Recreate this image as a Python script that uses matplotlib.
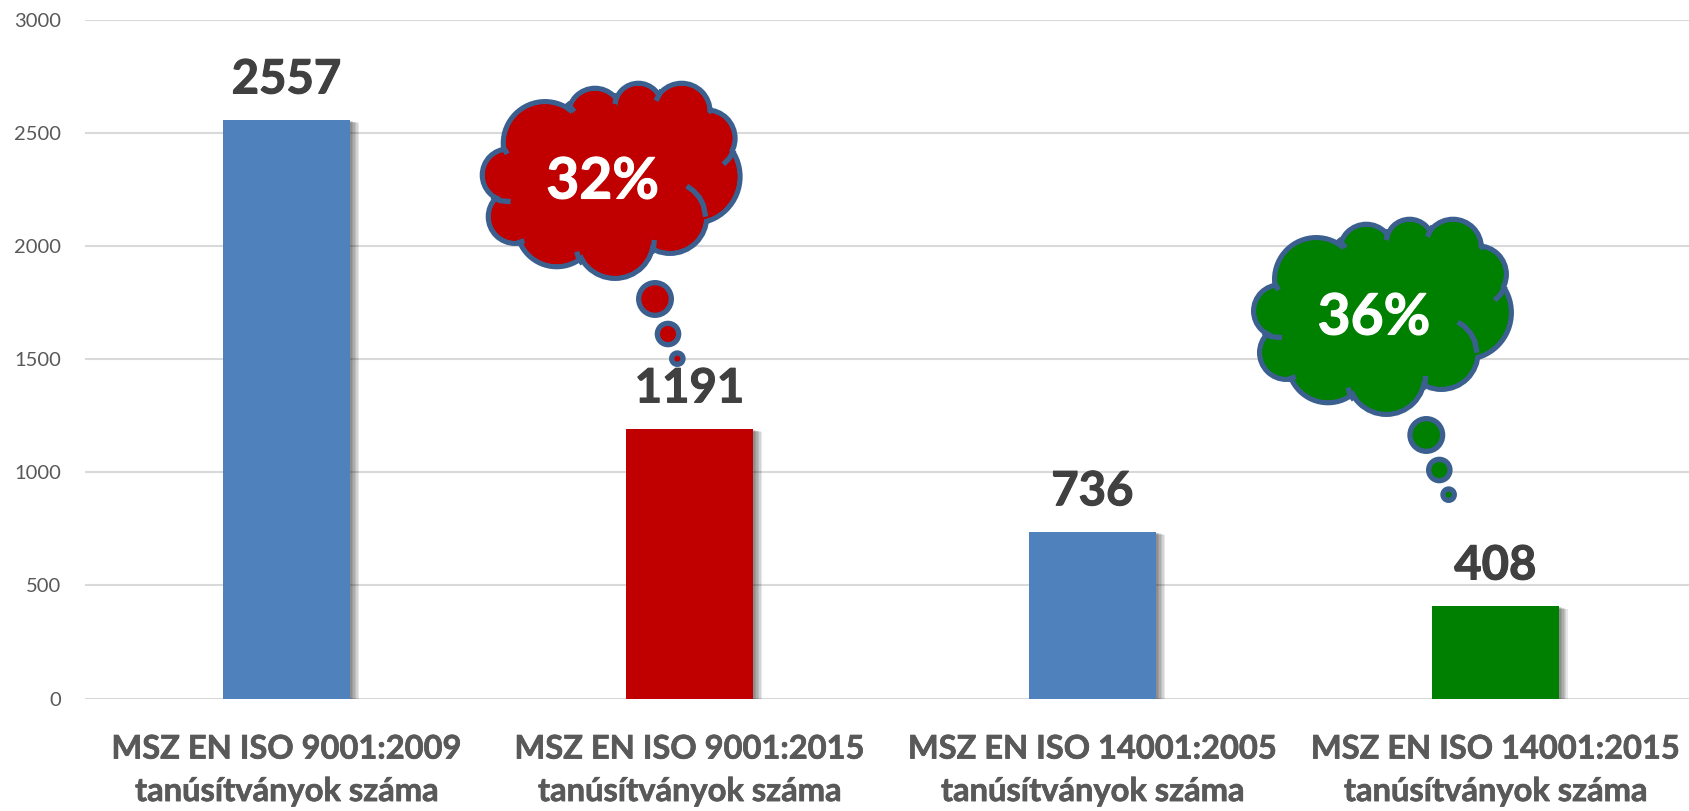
import matplotlib
matplotlib.use("Agg")
import matplotlib.pyplot as plt
import matplotlib.patheffects as pe
from matplotlib.patches import Circle, Polygon

plt.rcParams["font.family"] = ["Lato", "DejaVu Sans"]

categories = [
    "MSZ EN ISO 9001:2009\ntanúsítványok száma",
    "MSZ EN ISO 9001:2015\ntanúsítványok száma",
    "MSZ EN ISO 14001:2005\ntanúsítványok száma",
    "MSZ EN ISO 14001:2015\ntanúsítványok száma",
]
values = [2557, 1191, 736, 408]
bar_colors = ["#4F81BD", "#C00000", "#4F81BD", "#008000"]
y_ticks = [0, 500, 1000, 1500, 2000, 2500, 3000]

# felhők: szöveg, szín, bal felső sarok
cloud_labels = ["32%", "36%"]
cloud_colors = ["#C00000", "#008000"]
cloud_origins = [(460, 60), (1231.3, 196)]

# felhő alakja (3x nagyított kivágás koordinátái), körbe haladva
lobes = [
    (145, 345, 78), (255, 250, 125), (405, 165, 80), (535, 140, 70),
    (665, 155, 85), (740, 235, 85), (700, 350, 140), (630, 470, 110),
    (465, 540, 115), (290, 500, 120), (165, 470, 80),
]
stubs = [
    [(320, 128), (343, 155)],
    [(470, 100), (465, 132)],
    [(605, 90), (588, 122)],
    [(760, 150), (745, 155)],
    [(822, 270), (808, 295), (790, 313)],
    [(680, 378), (700, 392), (718, 412), (730, 435), (737, 470)],
    [(583, 540), (581, 560), (575, 580)],
    [(350, 575), (356, 595), (368, 612)],
    [(170, 550), (193, 542)],
    [(95, 410), (120, 422), (152, 425)],
    [(130, 262), (142, 282)],
]
bubbles = [(585, 717, 49), (624, 822, 32), (652, 896, 17)]

EDGE = "#3B5F8F"
LW = 3.8
LW_PX = LW / 0.72


def draw_cloud(ax, origin, color, label):
    ox, oy = origin
    px = lambda x, y: (ox + x / 3, oy + y / 3)

    # körvonal, aztán kisebb kitöltés rá, így csak a külső él marad
    for x, y, r in lobes:
        ax.add_patch(Circle(px(x, y), r / 3, fc=color, ec=EDGE, lw=LW))
    for x, y, r in lobes:
        ax.add_patch(Circle(px(x, y), r / 3 - LW_PX / 2, fc=color, ec="none"))
    ax.add_patch(Polygon([px(x, y) for x, y, r in lobes], fc=color, ec="none"))

    for stub in stubs:
        pts = [px(x, y) for x, y in stub]
        ax.plot([p[0] for p in pts], [p[1] for p in pts], color=EDGE, lw=LW,
                solid_capstyle="butt", solid_joinstyle="round")

    for x, y, r in bubbles:
        ax.add_patch(Circle(px(x, y), r / 3, fc=color, ec=EDGE, lw=LW))

    tx, ty = px(428, 366)
    ax.text(tx, ty, label, color="white", fontsize=41, fontweight="bold",
            ha="center", va="center",
            path_effects=[pe.withStroke(linewidth=0.8, foreground="white")])


fig = plt.figure(figsize=(16.9, 8.11), dpi=100)
ax = fig.add_axes([85 / 1690, 1 - 698.5 / 811, 1 - 85 / 1690, 678.5 / 811])

x = range(len(values))
shadow = [
    pe.SimplePatchShadow(offset=(o, -o * 0.3), shadow_rgbFace="#000000", alpha=0.09)
    for o in (6.5, 5.5, 4.5, 3.5, 2.5, 1.5)
]
bars = ax.bar(x, values, width=0.315, color=bar_colors, zorder=2,
              path_effects=shadow + [pe.Normal()])

for i, v in zip(x, values):
    ax.annotate(str(v), (i, v), xytext=(0, 13.5), textcoords="offset points",
                ha="center", va="bottom", fontsize=34, fontweight="bold",
                color="#404040",
                path_effects=[pe.withStroke(linewidth=0.8, foreground="#404040")])

ax.set_xlim(-0.5, 3.483)
ax.set_ylim(0, 3000)
ax.set_yticks(y_ticks)
ax.set_xticks(list(x))
ax.set_xticklabels(categories, fontsize=23.5, fontweight="bold", color="#595959",
                   linespacing=1.56,
                   path_effects=[pe.withStroke(linewidth=0.5, foreground="#595959")])
ax.tick_params(axis="x", length=0, pad=26)
ax.tick_params(axis="y", length=0, pad=17, labelsize=14.5, labelcolor="#595959")
ax.grid(axis="y", color="#D9D9D9", lw=1.5)
ax.set_axisbelow(True)
for s in ax.spines.values():
    s.set_visible(False)

# felső réteg a felhőknek, képpont koordinátákkal
over = fig.add_axes([0, 0, 1, 1])
over.set_xlim(0, 1690)
over.set_ylim(811, 0)
over.axis("off")
over.patch.set_alpha(0)
for origin, color, label in zip(cloud_origins, cloud_colors, cloud_labels):
    draw_cloud(over, origin, color, label)

fig.savefig("out.png", dpi=100)
plt.close()
